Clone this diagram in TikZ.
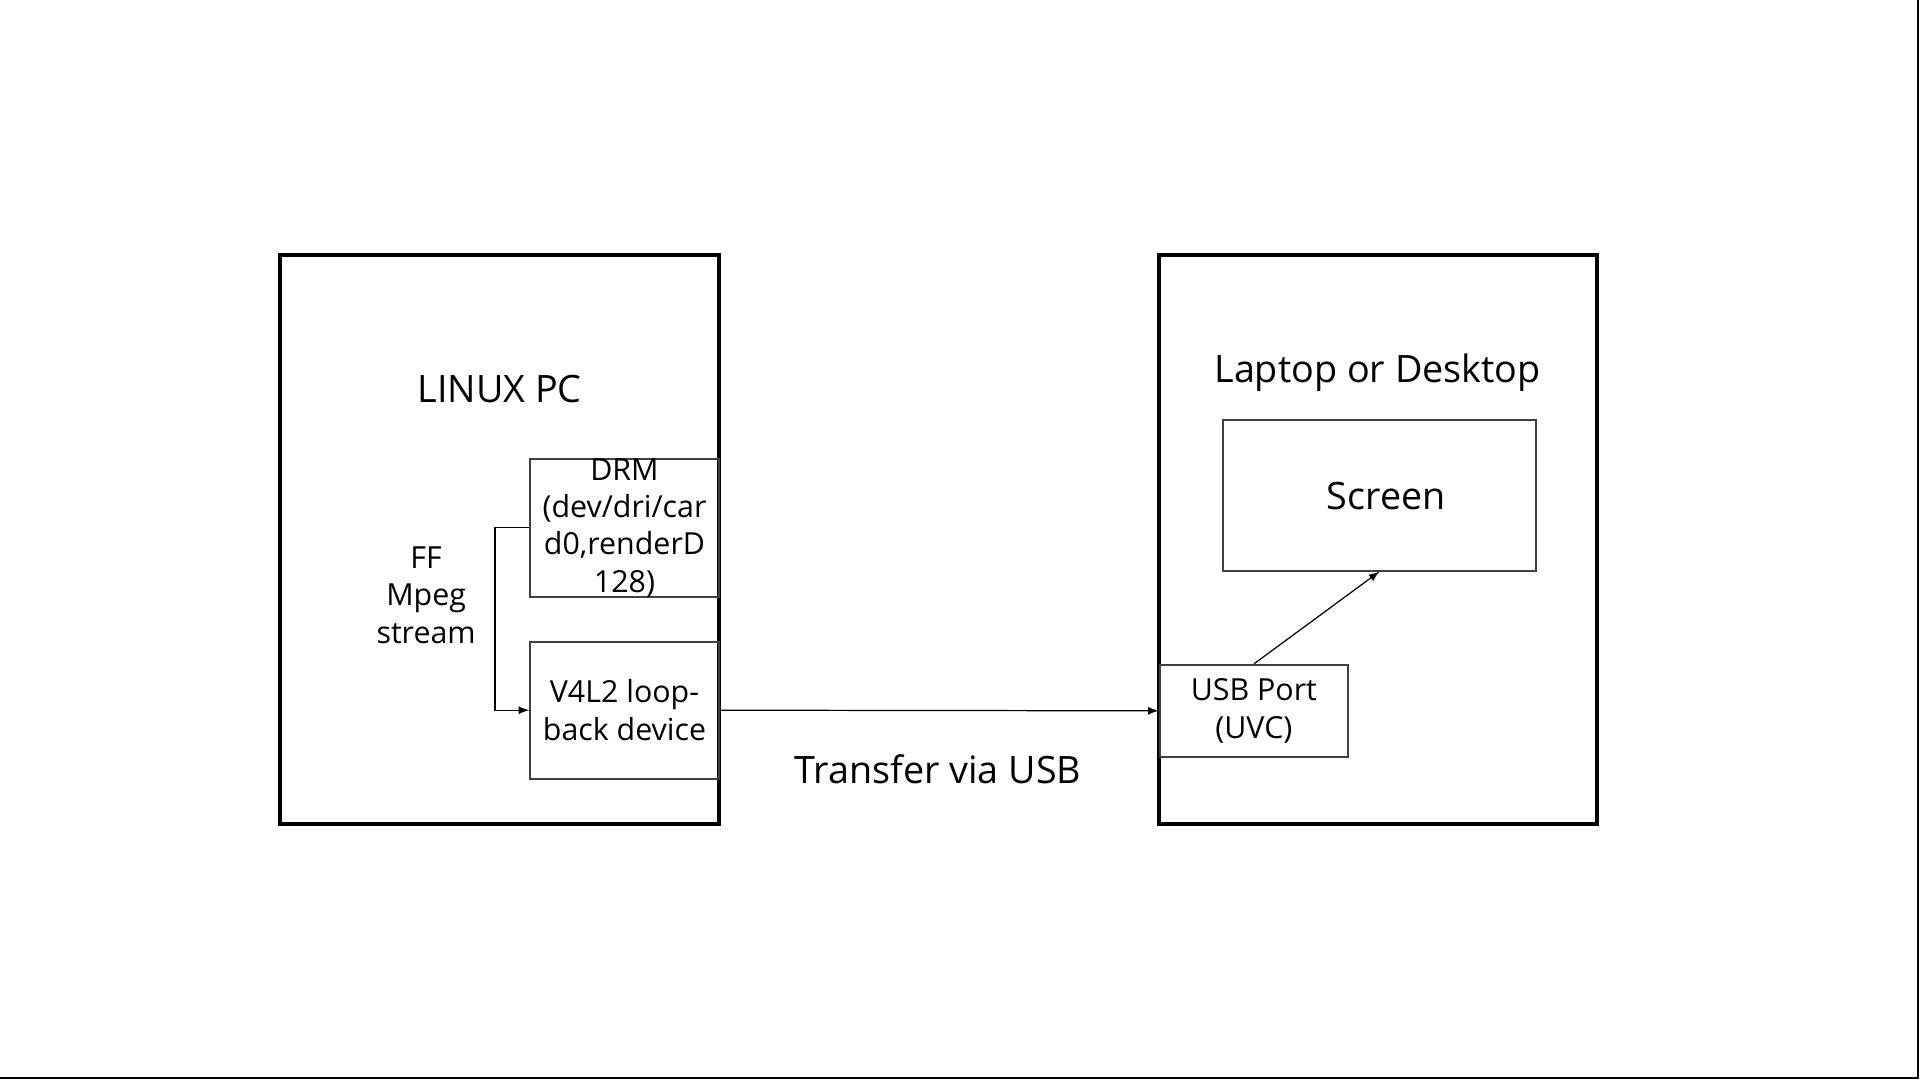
\documentclass[tikz,border=0pt]{standalone}
\usepackage{fontspec}
\setmainfont{Open Sans}
\usepackage{tikz}
\usetikzlibrary{arrows}
\usetikzlibrary{positioning}
\tikzstyle{flow} = [draw, line width=0.5pt, -latex]
\tikzstyle{every machine} = [draw, rectangle, inner sep=0pt, align=center]
\tikzstyle{machine} = [every machine, line width=1.6pt, minimum width=179pt, minimum height=232.5pt]
\tikzstyle{part} = [every machine, line width=0.8pt, draw=black!75, font=\fontsize{12.4}{15.2}\selectfont]
\tikzstyle{title} = [font=\fontsize{15.4}{18}\selectfont, inner sep=0pt]

\begin{document}
\begin{tikzpicture} [x=0.5pt, y=-0.5pt]

\useasboundingbox (0,0) rectangle (1568,882);
\draw[line width=1pt] (1566.5,0) -- (1566.5,880.5) -- (0,880.5);

% Linux PC

\node[machine] (linux) at (408,440.5) {};

\node[title] (linuxtitle) at (408,318) {LINUX PC};

\node[part, minimum width=77pt, minimum height=56pt] (drm) at (510,431) {DRM\\(dev/dri/car\\d0,renderD\\128)};

\node[part, minimum width=77pt, minimum height=56pt] (v4l2) at (510,580) {V4L2 loop-\\back device};

\node[part, draw=none, align=center] (ffmpeg) at (348,486) {FF\\Mpeg\\stream};

\draw[flow] (drm.west) -- ++(-28,0) |- (v4l2.west);

% Laptop or Desktop

\node[machine] (laptop) at (1125.5,440.5) {};

\node[title] (laptoptitle) at (1125,304) {Laptop or Desktop};

\node[part, minimum width=127.5pt, minimum height=61.5pt] (screen) at (1126.5,404.5) {};

\node[title] (screentext) at (1132,405) {Screen};

\node[part, minimum width=77pt, minimum height=37.5pt] (usb) at (1024,580.5) {USB Port\\(UVC)};

\draw[flow] (usb.north) -- (screen.south);

% USB link

\draw[flow] (v4l2.east) -- (usb.west);

\node[title] (transfer) at (766,628) {Transfer via USB};

\end{tikzpicture}
\end{document}
